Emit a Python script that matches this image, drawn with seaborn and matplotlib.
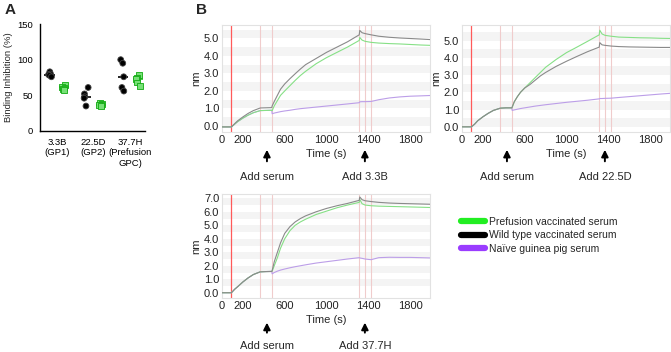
import numpy as np
import pandas as pd
import matplotlib
matplotlib.use('Agg')
import matplotlib.pyplot as plt
import matplotlib.transforms as mtransforms
from matplotlib.lines import Line2D
import seaborn as sns

sns.set_theme(style='white')
plt.rcParams['font.family'] = ['Liberation Sans', 'DejaVu Sans']
np.random.seed(3)  # stripplot jitter only

# ---------------- panel A: binding inhibition (%) ----------------
antibodies = ['3.3B\n(GP1)', '22.5D\n(GP2)', '37.7H\n(Prefusion\nGPC)']
groups = ['Wild type', 'Prefusion']
wt_33b = [83, 80, 79, 78, 76]
pre_33b = [64, 62, 61, 59, 57]
wt_225d = [61, 52, 48, 46, 35]
pre_225d = [40, 38, 37, 37, 35]
wt_377h = [100, 95, 76, 61, 56]
pre_377h = [79, 75, 73, 68, 63]

# ---------------- panel B: BLI traces ----------------
time_s = [0, 90, 120, 150, 200, 250, 300, 366, 420, 476, 480, 500, 530, 560, 600,
          650, 700, 750, 800, 900, 1000, 1100, 1200, 1313, 1318, 1340, 1369, 1426,
          1500, 1600, 1700, 1800, 1900, 1990]
event_times = [90, 366, 476, 1313, 1369, 1426]

# 3.3B
wt_3_3b = [-0.05, -0.05, 0.13, 0.3, 0.52, 0.72, 0.88, 1.03, 1.04, 1.05, 1.15, 1.4, 1.75,
           2.1, 2.4, 2.7, 2.98, 3.25, 3.5, 3.85, 4.2, 4.5, 4.8, 5.2, 5.45, 5.32, 5.27,
           5.2, 5.12, 5.06, 5.02, 4.99, 4.96, 4.93]
pre_3_3b = [-0.05, -0.05, 0.1, 0.25, 0.45, 0.62, 0.76, 0.88, 0.89, 0.9, 0.88, 1.15, 1.45,
            1.75, 2.0, 2.3, 2.6, 2.88, 3.12, 3.55, 3.9, 4.2, 4.5, 4.88, 5.05, 4.9, 4.83,
            4.77, 4.73, 4.7, 4.68, 4.65, 4.62, 4.6]
naive_3_3b = [-0.05, -0.05, 0.1, 0.25, 0.45, 0.62, 0.76, 0.88, 0.89, 0.9, 0.7, 0.74, 0.78,
              0.82, 0.86, 0.9, 0.95, 0.99, 1.02, 1.08, 1.14, 1.2, 1.26, 1.33, 1.38, 1.39,
              1.39, 1.4, 1.5, 1.6, 1.66, 1.7, 1.72, 1.74]
# 22.5D
wt_22_5d = [0.0, 0.0, 0.15, 0.35, 0.58, 0.78, 0.95, 1.08, 1.1, 1.1, 1.15, 1.45, 1.75, 2.0,
            2.25, 2.45, 2.7, 2.95, 3.15, 3.5, 3.8, 4.08, 4.35, 4.62, 4.88, 4.75, 4.72,
            4.68, 4.65, 4.63, 4.62, 4.61, 4.6, 4.6]
pre_22_5d = [0.0, 0.0, 0.15, 0.35, 0.58, 0.78, 0.95, 1.08, 1.1, 1.1, 1.12, 1.45, 1.75, 2.0,
             2.25, 2.55, 2.85, 3.15, 3.45, 3.9, 4.3, 4.62, 4.95, 5.33, 5.6, 5.38, 5.3,
             5.25, 5.2, 5.18, 5.16, 5.15, 5.13, 5.12]
naive_22_5d = [0.0, 0.0, 0.15, 0.35, 0.58, 0.78, 0.95, 1.08, 1.1, 1.1, 0.95, 0.98, 1.02,
               1.06, 1.1, 1.15, 1.2, 1.24, 1.28, 1.35, 1.42, 1.48, 1.54, 1.62, 1.64, 1.64,
               1.65, 1.66, 1.7, 1.75, 1.8, 1.85, 1.9, 1.94]
# 37.7H
wt_37_7h = [0.0, 0.0, 0.25, 0.45, 0.8, 1.1, 1.35, 1.55, 1.57, 1.58, 1.65, 2.3, 3.0, 3.7,
            4.4, 4.9, 5.25, 5.5, 5.7, 6.0, 6.25, 6.45, 6.62, 6.85, 7.1, 6.9, 6.82, 6.76,
            6.7, 6.65, 6.62, 6.6, 6.58, 6.56]
pre_37_7h = [0.0, 0.0, 0.25, 0.45, 0.8, 1.1, 1.35, 1.55, 1.57, 1.58, 1.6, 2.0, 2.6, 3.3,
             4.0, 4.6, 5.0, 5.25, 5.45, 5.8, 6.05, 6.3, 6.5, 6.7, 6.92, 6.6, 6.5, 6.45,
             6.42, 6.4, 6.38, 6.36, 6.34, 6.32]
naive_37_7h = [0.0, 0.0, 0.25, 0.45, 0.8, 1.1, 1.35, 1.55, 1.57, 1.58, 1.4, 1.5, 1.6, 1.68,
               1.76, 1.85, 1.93, 2.0, 2.07, 2.2, 2.3, 2.4, 2.5, 2.6, 2.58, 2.55, 2.5, 2.45,
               2.6, 2.63, 2.62, 2.62, 2.6, 2.58]

legend_labels = ['Prefusion vaccinated serum', 'Wild type vaccinated serum', 'Naïve guinea pig serum']
legend_colors = ['#22ee22', '#000000', '#9a3cff']
trace_colors = {'Prefusion': '#86e086', 'Wild type': '#8a8a8a', 'Naive': '#bc9ee8'}

fig = plt.figure(figsize=(6.71, 3.52), dpi=100)
W, H = 671, 352


def add_ax(left, top, right, bottom):
    return fig.add_axes([left / W, 1 - bottom / H, (right - left) / W, (bottom - top) / H])


# ---------- panel A ----------
axA = add_ax(40, 24, 145, 131)
rows = []
for ab, wt, pre in zip(antibodies, [wt_33b, wt_225d, wt_377h], [pre_33b, pre_225d, pre_377h]):
    rows += [(ab, 'Wild type', v) for v in wt]
    rows += [(ab, 'Prefusion', v) for v in pre]
dfA = pd.DataFrame(rows, columns=['antibody', 'group', 'inhibition'])

for grp, col, mk, fc, ec in [('Wild type', 'black', 'o', 'black', '#444444'),
                             ('Prefusion', '#22bb22', 's', '#77e077', '#11aa11')]:
    sub = dfA[dfA['group'] == grp]
    sns.boxplot(data=sub, x='antibody', y='inhibition', hue='group', hue_order=groups,
                order=antibodies, dodge=True, width=0.8, gap=0.3, showbox=False, showcaps=False,
                showfliers=False, whiskerprops={'visible': False},
                medianprops={'color': col, 'lw': 1.2}, legend=False, ax=axA)
    sns.stripplot(data=sub, x='antibody', y='inhibition', hue='group', hue_order=groups,
                  order=antibodies, dodge=True, jitter=0.13, palette={g: fc for g in groups},
                  marker=mk, size=4.2, edgecolor=ec, linewidth=0.6, legend=False, ax=axA)

axA.set_xlim(-0.46, 2.4)
axA.set_ylim(0, 150)
axA.set_yticks([0, 50, 100, 150])
axA.set_xlabel('')
axA.set_ylabel('Binding Inhibition (%)', fontsize=6.8, labelpad=3)
for s in ['top', 'right']:
    axA.spines[s].set_visible(False)
for s in ['left', 'bottom']:
    axA.spines[s].set_color('black')
    axA.spines[s].set_linewidth(1)
axA.tick_params(axis='both', direction='out', length=3, width=1, colors='black', labelsize=6.8, pad=2)

fig.text(5 / W, 1 - 10 / H, 'A', fontsize=11, fontweight='bold', va='center')
fig.text(196 / W, 1 - 10 / H, 'B', fontsize=11, fontweight='bold', va='center')


# ---------- panel B ----------
def bli_panel(ax, black, green, purple, ylim, ymax_tick, band_off, ab_name, arr):
    df = pd.DataFrame({
        'time': time_s * 3,
        'nm': purple + green + black,
        'serum': ['Naive'] * len(time_s) + ['Prefusion'] * len(time_s) + ['Wild type'] * len(time_s),
    })
    for k in np.arange(band_off, ylim[1], 1.0):
        ax.axhspan(k, k + 0.5, color='#f4f4f4', lw=0, zorder=0)
    for i, t in enumerate(event_times):
        ax.axvline(t, color='#ff5a5a' if i == 0 else '#f0cccc', lw=0.9 if i == 0 else 0.8, zorder=1)
    sns.lineplot(data=df, x='time', y='nm', hue='serum', palette=trace_colors,
                 hue_order=['Naive', 'Prefusion', 'Wild type'], estimator=None,
                 lw=0.8, legend=False, ax=ax, zorder=3)
    ax.set_xlim(0, 1990)
    ax.set_ylim(*ylim)
    ax.set_xticks([0, 200, 600, 1000, 1400, 1800])
    ax.set_yticks(np.arange(0, ymax_tick + 0.1, 1.0))
    ax.set_yticklabels([f'{v:.1f}' for v in np.arange(0, ymax_tick + 0.1, 1.0)])
    ax.tick_params(axis='both', length=0, labelsize=8, colors='#222222', pad=2)
    ax.set_xlabel('Time (s)', fontsize=8, labelpad=3)
    ax.set_ylabel('nm', fontsize=8, labelpad=2)
    for s in ax.spines.values():
        s.set_color('#e2e2e2')
        s.set_linewidth(0.8)
    trans = mtransforms.blended_transform_factory(ax.transData, ax.transAxes)
    tip, tail, txt = arr
    for t, lab in [(430, 'Add serum'), (1367, 'Add ' + ab_name)]:
        ax.annotate('', xy=(t, tip), xytext=(t, tail), xycoords=trans, textcoords=trans,
                    arrowprops=dict(arrowstyle='-|>', color='black', lw=1.4, mutation_scale=10),
                    annotation_clip=False)
        ax.text(t, txt, lab, transform=trans, ha='center', va='center', fontsize=8)


ax1 = add_ax(222, 25, 430, 132)
bli_panel(ax1, wt_3_3b, pre_3_3b, naive_3_3b, (-0.34, 5.76), 5, 0.0, '3.3B', (-0.14, -0.30, -0.42))
ax2 = add_ax(462, 25, 670, 132)
bli_panel(ax2, wt_22_5d, pre_22_5d, naive_22_5d, (-0.3, 5.9), 5, 0.0, '22.5D', (-0.14, -0.30, -0.42))
ax3 = add_ax(222, 194, 430, 298)
bli_panel(ax3, wt_37_7h, pre_37_7h, naive_37_7h, (-0.39, 7.32), 7, 0.5, '37.7H', (-0.21, -0.36, -0.46))

handles = [Line2D([0], [0], color=c, lw=4.5) for c in legend_colors]
fig.legend(handles, legend_labels, loc='upper left', bbox_to_anchor=(461 / W, 1 - 217 / H),
           frameon=False, fontsize=7.5, handlelength=2.3, handletextpad=0.4,
           labelspacing=0.33, borderpad=0, borderaxespad=0)

fig.savefig('out.png', dpi=100)
